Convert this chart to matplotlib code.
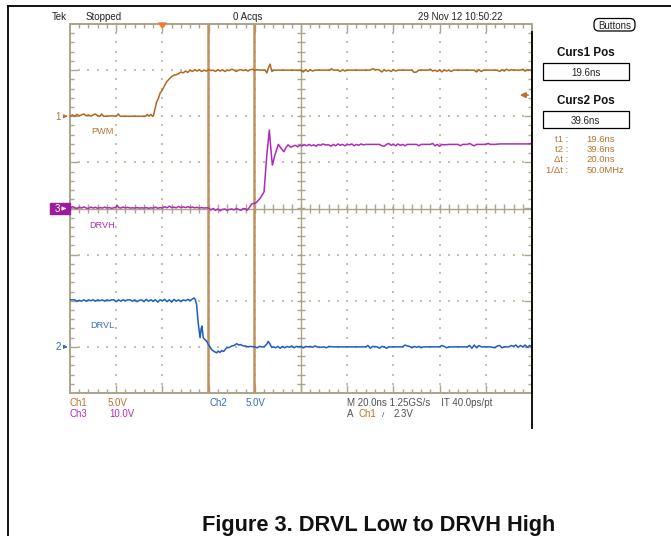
import matplotlib
matplotlib.use("Agg")
import matplotlib.pyplot as plt
from matplotlib.patches import Rectangle, FancyBboxPatch, Polygon
from matplotlib.collections import LineCollection
import numpy as np

W, H = 671, 536

# scope settings (20 ns/div, trigger 2 div from the left edge)
t_left, t_right = -40.0, 160.0
ch1_scale, ch1_pos = 5.0, 2.0     # PWM   V/div, ground in div
ch2_scale, ch2_pos = 5.0, -3.0    # DRVL
ch3_scale, ch3_pos = 10.0, 0.0    # DRVH
cursor1_ns, cursor2_ns = 19.6, 39.6
trig_level = 2.3

# (time ns, volts)
pwm = [(-40, 0.0), (-39, 0.15), (-38, 0.0), (-37, 0.2), (-36, 0.05), (-35, 0.15), (-34, 0.25),
       (-33, 0.05), (-32, 0.15), (-31, 0.0), (-30, 0.15), (-29, 0.25), (-28, 0.05), (-27, 0.0),
       (-26.3, 0.25), (-25.5, 0.0), (-24, 0.0), (-22, 0.05), (-20, 0.0), (-19.1, 0.25), (-18.3, 0.0),
       (-16, 0.0), (-14, 0.0), (-12, 0.0), (-9.7, 0.0), (-7.2, 0.0), (-6.5, 0.2), (-5.8, 0.0),
       (-5.0, 0.2), (-4.3, 0.0), (-3.9, 0.05), (-2.5, 1.55), (-1.8, 1.9), (-1.0, 2.5), (-0.3, 2.75),
       (0.4, 3.05), (1.1, 3.4), (1.9, 3.75), (2.8, 4.0), (4.0, 4.3), (5.0, 4.45), (6.0, 4.5),
       (6.9, 4.6), (8.0, 4.8), (9.0, 4.7), (10.0, 4.9), (11.0, 4.75), (12.0, 5.0), (13.0, 4.85),
       (14.1, 5.05), (15, 4.9), (16, 5.05), (17, 4.85), (18, 5.0), (19, 4.9), (20, 5.05), (21, 4.95),
       (22, 5.0), (23, 4.85), (24, 5.05), (25, 4.9), (26, 5.05), (27, 4.85), (28, 5.0), (29, 4.95),
       (30, 5.1), (31, 5.0), (32, 4.85), (33, 5.0), (34, 5.05), (35, 4.95), (36, 5.05), (37, 4.9),
       (38, 5.05), (39, 5.1), (40, 4.95), (41, 5.05), (42, 5.0), (43.5, 5.0), (44.5, 5.0),
       (45.2, 4.7), (46.0, 5.3), (46.6, 5.65), (47.4, 4.85), (48.2, 5.0), (50, 5.0), (54, 5.0),
       (58, 5.0), (60, 5.0), (61, 4.8), (62, 5.05), (63, 4.85), (64, 5.05), (65, 4.9), (66, 5.0),
       (68, 5.0), (70, 5.0), (72.6, 5.0), (73.2, 5.15), (74, 5.0), (76, 5.0), (77, 4.85), (78, 5.05),
       (79, 4.9), (80, 5.0), (82, 5.0), (86, 5.0), (90, 5.0), (91, 5.15), (92, 5.05), (93.5, 5.05),
       (94, 5.0), (95, 4.8), (96, 5.05), (97, 4.9), (98, 5.0), (99, 4.85), (100, 5.05), (101, 4.9),
       (102, 5.0), (104, 5.0), (106, 5.0), (108, 5.0), (109, 4.75), (110, 4.8), (111, 5.0),
       (113, 5.0), (115, 5.0), (116, 5.1), (117, 4.9), (118, 5.0), (119, 4.85), (120, 5.05),
       (121, 4.8), (122, 5.05), (123, 4.9), (124, 5.0), (125, 4.85), (126, 5.0), (128, 5.0),
       (132, 5.0), (135, 5.0), (136, 4.8), (137, 5.05), (138, 4.85), (139, 5.0), (142, 5.0),
       (145, 5.0), (146, 4.85), (147, 5.05), (148, 4.9), (149, 5.1), (150, 4.95), (151, 5.05),
       (152, 5.0), (155, 5.0), (156, 5.1), (157, 4.9), (158, 5.05), (159, 5.0), (160, 5.0)]

drvh = [(-40, 0.1), (-39, 0.4), (-38, 0.2), (-37, 0.0), (-36, 0.3), (-35, 0.1), (-34, 0.35),
        (-33, 0.1), (-32, 0.0), (-31, 0.3), (-30, 0.1), (-29, 0.25), (-28, 0.05), (-27, 0.2),
        (-26, 0.1), (-25, 0.3), (-24, 0.1), (-23, 0.2), (-22, 0.05), (-21, 0.15), (-20, 0.3),
        (-19.6, 0.7), (-19, 0.2), (-18, 0.1), (-17, 0.3), (-16, 0.15), (-15, 0.25), (-14, 0.1),
        (-13, 0.15), (-12, 0.1), (-11, 0.2), (-10, 0.1), (-9, 0.15), (-8, 0.1), (-7, 0.2),
        (-6, 0.05), (-5, 0.15), (-4, 0.1), (-3, 0.3), (-2, 0.05), (-1, 0.2), (0, 0.1), (1, 0.4),
        (2, 0.15), (3, 0.5), (4, 0.2), (5, 0.3), (6, 0.15), (7, 0.45), (8, 0.2), (9, 0.35),
        (10, 0.2), (11, 0.4), (12, 0.2), (13, 0.3), (14, 0.15), (15, 0.25), (16, 0.1), (17, 0.2),
        (18, 0.1), (19, 0.15), (20, 0.1), (21, -0.3), (22, 0.0), (23, -0.4), (24, -0.1),
        (25, -0.5), (26, -0.2), (27, -0.1), (28, -0.4), (29, -0.2), (30, -0.1), (31, -0.3),
        (32, 0.0), (33, -0.2), (34, -0.4), (35, 0.0), (36, -0.1), (36.5, -0.4), (37.5, 0.1),
        (38.7, 1.0), (40.5, 1.2), (42.3, 2.2), (44.0, 3.6), (45.2, 11.6), (46.3, 17.0),
        (46.8, 13.8), (47.6, 9.4), (48.7, 11.6), (50.2, 13.9), (51.3, 13.1), (52.6, 12.3),
        (53.5, 13.2), (54.4, 13.8), (55.5, 13.3), (56.5, 13.5), (57.5, 13.7), (58.5, 13.4),
        (59.5, 13.7), (60.5, 13.6), (61.5, 13.8), (62.5, 13.6), (63.5, 13.9), (64.5, 13.6),
        (65.5, 13.8), (66.5, 13.5), (67.5, 13.9), (68.5, 13.7), (69.5, 14.0), (70.5, 13.8),
        (72, 13.8), (73, 13.5), (74, 13.9), (75, 13.6), (76, 14.0), (77, 13.7), (78, 13.9),
        (79, 13.6), (80, 13.9), (81, 13.8), (82, 14.0), (83, 13.6), (84, 13.9), (85, 13.7),
        (86, 14.0), (87, 13.8), (88, 13.9), (90, 13.9), (92, 13.9), (94, 13.9), (95, 13.6),
        (96, 13.5), (97, 13.9), (98, 14.1), (99, 13.7), (100, 13.9), (101, 13.6), (102, 14.0),
        (103, 13.7), (104, 13.9), (105, 13.6), (106, 13.9), (108, 13.9), (110, 13.9), (111, 13.6),
        (112, 13.9), (114, 13.9), (116, 13.9), (117, 14.1), (118, 13.6), (119, 13.9), (120, 13.5),
        (121, 13.9), (122, 13.8), (124, 13.9), (126, 13.9), (128, 13.9), (129, 13.6), (130, 13.9),
        (132, 13.9), (133, 14.1), (134, 13.8), (135, 13.6), (136, 13.9), (138, 13.9), (140, 13.9),
        (141, 14.1), (142, 13.9), (144, 13.9), (146, 14.0), (148, 14.0), (150, 14.0), (154, 14.0),
        (158, 14.0), (160, 14.1)]

drvl = [(-40, 5.1), (-38, 5.1), (-37, 4.95), (-36, 5.05), (-35, 4.95), (-34, 5.1), (-33, 4.95),
        (-32, 5.1), (-31, 5.0), (-30, 5.1), (-29, 4.95), (-28, 5.1), (-27, 5.0), (-26, 5.1),
        (-25, 4.95), (-24, 5.1), (-23, 5.0), (-22, 5.1), (-21, 5.1), (-20, 4.9), (-19, 5.1),
        (-18, 4.95), (-17, 5.1), (-16, 5.0), (-15, 5.1), (-14, 5.1), (-13, 4.95), (-12, 5.1),
        (-11, 4.9), (-10, 5.05), (-9, 5.1), (-8, 4.9), (-7, 5.15), (-6, 4.95), (-5, 5.1),
        (-4, 4.95), (-3, 5.1), (-2, 4.85), (-1, 5.1), (0, 5.0), (1, 5.15), (2, 4.9), (3, 5.1),
        (4, 4.85), (5, 5.15), (6, 4.95), (7, 5.1), (8, 4.9), (9, 5.1), (10, 5.0), (11, 5.15),
        (12, 5.0), (13, 5.2), (13.7, 5.3), (14.3, 5.1), (14.8, 4.6), (15.5, 2.6), (16.3, 1.0),
        (16.8, 2.0), (17.1, 2.25), (17.7, 1.0), (18.4, 0.8), (19.2, 0.6), (19.9, 0.25), (20.6, 0.0),
        (21.3, -0.3), (22.4, -0.5), (23.5, -0.65), (24.2, -0.45), (24.9, -0.6), (25.7, -0.4),
        (26.5, -0.5), (27.8, -0.1), (29, -0.05), (30, 0.1), (31, 0.15), (32.2, 0.35), (33.0, 0.2),
        (33.8, 0.25), (35.0, 0.1), (36, 0.1), (37, 0.0), (38, 0.05), (40, 0.0), (41, -0.1),
        (42, 0.05), (43, 0.0), (44, 0.0), (45.2, 0.3), (45.8, 0.6), (46.6, 0.3), (47.3, -0.05),
        (48, 0.0), (49, -0.1), (50, 0.05), (51, -0.15), (52, 0.05), (53, -0.1), (54, 0.05),
        (55, -0.05), (56, 0.1), (57, -0.1), (58, 0.05), (59, 0.0), (60, 0.05), (61, -0.1),
        (62, 0.05), (63, 0.0), (64, 0.05), (65, -0.05), (66, 0.1), (67, 0.0), (68, -0.05),
        (70, 0.0), (71, -0.1), (72, 0.05), (74, 0.0), (78, 0.0), (82, 0.0), (86, 0.0), (88, 0.0),
        (89, 0.15), (90, -0.15), (91, 0.05), (93, 0.0), (94, -0.15), (95, 0.05), (96, 0.0),
        (97, -0.15), (98, 0.0), (104, 0.0), (105, 0.2), (106, 0.1), (107, 0.05), (108, -0.1),
        (109, 0.05), (110, -0.05), (111, 0.05), (112, -0.1), (113, 0.0), (115, 0.0), (120, 0.0),
        (121, 0.15), (122, 0.05), (123, -0.1), (124, 0.0), (126, 0.0), (130, 0.0), (132, 0.0),
        (133, 0.15), (134, -0.15), (135, 0.2), (136, -0.1), (137, 0.15), (138, 0.0), (140, 0.0),
        (142, 0.0), (144, -0.1), (145, 0.1), (146, 0.15), (147, -0.1), (148, 0.0), (150, 0.0),
        (151, 0.15), (152, 0.05), (153, 0.2), (154, -0.05), (155, 0.15), (156, 0.0), (157, 0.2),
        (158, -0.05), (159, 0.15), (160, 0.0)]

readout_labels = ["t1 :", "t2 :", "\u0394t :", "1/\u0394t :"]
readout_values = ["19.6ns", "39.6ns", "20.0ns", "50.0MHz"]

c_pwm = "#b2661f"
c_drvh = "#b02ab8"
c_drvl = "#1f5cc0"
c_grat = "#aaa48a"
c_curs = "#bf915f"
c_txt1 = "#b8722e"
c_txt3 = "#b030b0"
c_txt2 = "#3a6cc0"
c_gray = "#505050"

plt.rcParams["font.family"] = ["Liberation Sans", "DejaVu Sans"]

fig = plt.figure(figsize=(W / 100, H / 100), dpi=100)
fig.patch.set_facecolor("white")

# scope graticule area
ax = fig.add_axes([70 / W, (H - 393) / H, 462 / W, 369 / H])
ax.set_xlim(t_left, t_right)
ax.set_ylim(-4, 4)
ax.set_axis_off()
ax.patch.set_visible(False)

px = 20.0 / 46.2   # ns per pixel
py = 1.0 / 46.1    # div per pixel

# dotted grid
dots_x, dots_y = [], []
for xd in np.arange(-20, 160, 20):
    if xd == 60:
        continue
    for yd in np.arange(-3.8, 4.0, 0.2):
        dots_x.append(xd)
        dots_y.append(yd)
for yd in [-3, -2, -1, 1, 2, 3]:
    for xd in np.arange(-36, 160, 4):
        dots_x.append(xd)
        dots_y.append(yd)
ax.scatter(dots_x, dots_y, s=1.0, marker="s", color="#c4c0ac", linewidths=0, zorder=1)

# frame, centre axes and ticks
segs = []
ax.add_patch(Rectangle((t_left, -4), t_right - t_left, 8, fill=False, ec=c_grat, lw=1.4,
                       clip_on=False, zorder=2))
segs.append([(60, -4), (60, 4)])
segs.append([(t_left, 0), (t_right, 0)])
for xt in np.arange(-36, 160, 4):
    major = abs((xt + 40) % 20) < 1e-6
    L = (8 if major else 4) * py
    segs.append([(xt, 4), (xt, 4 - L)])
    segs.append([(xt, -4), (xt, -4 + L)])
    segs.append([(xt, -4 * py), (xt, 4 * py)])
for yt in np.arange(-3.8, 4.0, 0.2):
    major = abs(yt - round(yt)) < 1e-6
    L = (8 if major else 4) * px
    segs.append([(t_left, yt), (t_left + L, yt)])
    segs.append([(t_right, yt), (t_right - L, yt)])
    segs.append([(60 - 4 * px, yt), (60 + 4 * px, yt)])
ax.add_collection(LineCollection(segs, colors=c_grat, linewidths=1.0, zorder=2))

# cursors
for tc in (cursor1_ns, cursor2_ns):
    ax.plot([tc, tc], [-4, 4], color=c_curs, lw=1.8, zorder=3, solid_capstyle="butt")


def trace(pts, scale, pos, color):
    t, v = zip(*pts)
    ax.plot(t, pos + np.array(v) / scale, color=color, lw=1.1, zorder=4)


trace(pwm, ch1_scale, ch1_pos, c_pwm)
trace(drvh, ch3_scale, ch3_pos, c_drvh)
trace(drvl, ch2_scale, ch2_pos, c_drvl)

# overlay in pixel coordinates for the page and the scope texts
bg = fig.add_axes([0, 0, 1, 1], zorder=5)
bg.set_xlim(0, W)
bg.set_ylim(H, 0)
bg.set_axis_off()
bg.patch.set_visible(False)

bg.plot([8, W], [6, 6], color="black", lw=1.3)
bg.plot([8, 8], [6, H], color="black", lw=1.3)
bg.plot([532, 532], [32, 428], color="black", lw=1.3)

fs = 7.0
bg.text(59.5, 20.5, "Tek", ha="center", va="baseline", fontsize=fs, color="#222222")
bg.text(104, 20.5, "Stopped", ha="center", va="baseline", fontsize=fs, color="#222222")
bg.text(248, 20.5, "0 Acqs", ha="center", va="baseline", fontsize=fs, color="#222222")
bg.text(460, 20.5, "29 Nov 12 10:50:22", ha="center", va="baseline", fontsize=fs, color="#222222")

# trigger position marker
x_trig = 70 + (0 - t_left) / px
bg.add_patch(Polygon([(x_trig - 4, 23), (x_trig + 4, 23), (x_trig, 28)], closed=True,
                     color="#f07a3a", zorder=6))

# trigger level arrow on right edge
y_lvl = 208.5 - (ch1_pos + trig_level / ch1_scale) * 46.1
bg.annotate("", xy=(517, y_lvl), xytext=(531, y_lvl),
            arrowprops=dict(arrowstyle="-|>", color=c_txt1, lw=1.2, mutation_scale=8))

# side panel
bg.add_patch(FancyBboxPatch((594, 18.5), 41, 12.5, boxstyle="round,pad=0,rounding_size=5",
                            fc="white", ec="black", lw=0.9))
bg.text(614.5, 29, "Buttons", ha="center", va="baseline", fontsize=fs, color="#222222")
for title, val, yt, yb in [("Curs1 Pos", "19.6ns", 56.5, 63.3), ("Curs2 Pos", "39.6ns", 104.5, 111.3)]:
    bg.text(585.5, yt, title, ha="center", va="baseline", fontsize=8.4, fontweight="bold",
            color="#111111")
    bg.add_patch(Rectangle((543.3, yb), 85.3, 16.5, fill=False, ec="black", lw=0.9))
    bg.text(585.7, yb + 12.8, val, ha="center", va="baseline", fontsize=fs, color="#222222")
for i, (lab, val) in enumerate(zip(readout_labels, readout_values)):
    yb = 141.8 + i * 10.3
    bg.text(568.5, yb, lab, ha="right", va="baseline", fontsize=6.8, color=c_txt1)
    bg.text(586.7, yb, val, ha="left", va="baseline", fontsize=6.8, color=c_txt1)

# channel ground markers and labels
for num, pos, col in [("1", ch1_pos, c_txt1), ("2", ch2_pos, c_txt2)]:
    yy = 208.5 - pos * 46.1
    bg.text(58.5, yy + 3.6, num, ha="center", va="baseline", fontsize=fs, color=col)
    bg.annotate("", xy=(70.5, yy), xytext=(62.5, yy),
                arrowprops=dict(arrowstyle="-|>", color=col, lw=0.9, mutation_scale=5))
y3 = 208.5 - ch3_pos * 46.1
bg.add_patch(Rectangle((50, y3 - 5.8), 19.5, 11.5, color="#9c1a9c"))
bg.text(57, y3 + 3.6, "3", ha="center", va="baseline", fontsize=fs, color="white")
bg.annotate("", xy=(69, y3), xytext=(61.5, y3),
            arrowprops=dict(arrowstyle="-|>", color="white", lw=0.9, mutation_scale=5))

bg.text(102.5, 134, "PWM", ha="center", va="baseline", fontsize=6.6, color=c_txt1)
bg.text(102, 228.5, "DRVH", ha="center", va="baseline", fontsize=6.6, color=c_txt3)
bg.text(102, 327.8, "DRVL", ha="center", va="baseline", fontsize=6.6, color=c_txt2)

# bottom readouts
bg.text(70, 406.5, "Ch1", ha="left", va="baseline", fontsize=fs, color=c_txt1)
bg.text(107.3, 406.5, "5.0V", ha="left", va="baseline", fontsize=fs, color=c_txt1)
bg.text(70, 417, "Ch3", ha="left", va="baseline", fontsize=fs, color=c_txt3)
bg.text(109, 417, "10.0V", ha="left", va="baseline", fontsize=fs, color=c_txt3)
bg.text(209, 406.5, "Ch2", ha="left", va="baseline", fontsize=fs, color=c_txt2)
bg.text(246, 406.5, "5.0V", ha="left", va="baseline", fontsize=fs, color=c_txt2)
bg.text(346.7, 406.5, "M 20.0ns 1.25GS/s    IT 40.0ps/pt", ha="left", va="baseline",
        fontsize=fs, color=c_gray)
bg.text(346.7, 417, "A", ha="left", va="baseline", fontsize=fs, color=c_gray)
bg.text(358.3, 417, "Ch1", ha="left", va="baseline", fontsize=fs, color=c_txt1)
bg.text(382.5, 417, "/", ha="left", va="baseline", fontsize=6, color=c_gray)
bg.text(394, 417, "%.1fV" % trig_level, ha="left", va="baseline", fontsize=fs, color=c_gray)

bg.text(378.5, 530.5, "Figure 3. DRVL Low to DRVH High", ha="center", va="baseline",
        fontsize=15.7, fontweight="bold", color="#111111")

fig.savefig("out.png", dpi=100)
